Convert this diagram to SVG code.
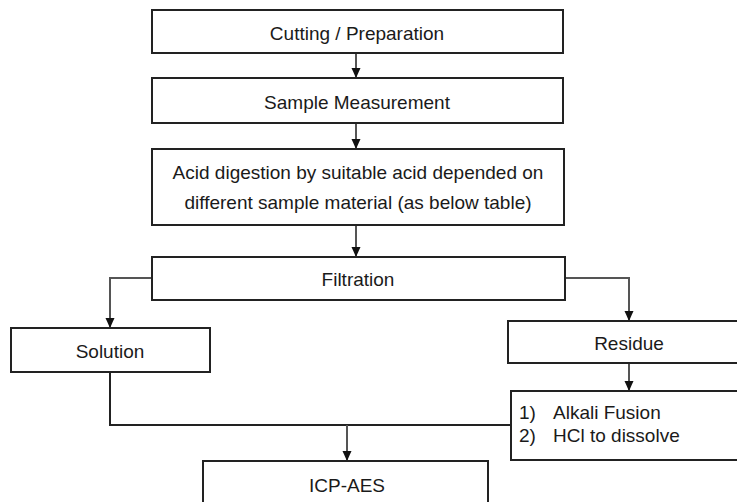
<svg xmlns="http://www.w3.org/2000/svg" width="737" height="502" viewBox="0 0 737 502">
<style>
.box{fill:#fff;stroke:#222;stroke-width:2}
.t{font-family:"Liberation Sans",Arial,sans-serif;font-size:19px;fill:#1a1a1a}
.c{text-anchor:middle}
.con{fill:none;stroke:#555;stroke-width:2}
.dark{fill:none;stroke:#222;stroke-width:2}
</style>
<defs>
<marker id="ah" markerUnits="userSpaceOnUse" markerWidth="10" markerHeight="10" refX="10" refY="5" orient="auto">
<path d="M0,0.5 L10,5 L0,9.5 z" fill="#111"/>
</marker>
</defs>
<rect width="737" height="502" fill="#fff"/>
<g id="connectors">
<path class="con" d="M356,53 V78" marker-end="url(#ah)"/>
<path class="con" d="M356,123 V149" marker-end="url(#ah)"/>
<path class="con" d="M356,225 V257" marker-end="url(#ah)"/>
<path class="con" d="M152,278 H110 V328" marker-end="url(#ah)"/>
<path class="con" d="M565,278 H629 V321" marker-end="url(#ah)"/>
<path class="con" d="M629,363 V391" marker-end="url(#ah)"/>
<path class="dark" d="M110,372 V425 H511"/>
<path class="con" d="M347,425 V461" marker-end="url(#ah)"/>
</g>
<g id="cutting">
<rect class="box" x="152" y="10" width="411" height="43"/>
<text class="t c" x="357" y="39.5">Cutting / Preparation</text>
</g>
<g id="measurement">
<rect class="box" x="152" y="78" width="411" height="45"/>
<text class="t c" x="357" y="109">Sample Measurement</text>
</g>
<g id="digestion">
<rect class="box" x="152" y="149" width="412" height="76"/>
<text class="t c" x="358" y="178.5">Acid digestion by suitable acid depended on</text>
<text class="t c" x="358" y="208.5">different sample material (as below table)</text>
</g>
<g id="filtration">
<rect class="box" x="152" y="257" width="413" height="43"/>
<text class="t c" x="358" y="286">Filtration</text>
</g>
<g id="solution">
<rect class="box" x="11" y="328" width="199" height="44"/>
<text class="t c" x="110" y="358">Solution</text>
</g>
<g id="residue">
<rect class="box" x="508" y="321" width="240" height="42"/>
<text class="t c" x="629" y="350">Residue</text>
</g>
<g id="fusion">
<rect class="box" x="511" y="391" width="240" height="69"/>
<text class="t" x="519" y="419">1)</text>
<text class="t" x="553" y="419">Alkali Fusion</text>
<text class="t" x="519" y="442">2)</text>
<text class="t" x="553" y="442">HCl to dissolve</text>
</g>
<g id="icp">
<rect class="box" x="203" y="461" width="285" height="60"/>
<text class="t c" x="347" y="492">ICP-AES</text>
</g>
</svg>
